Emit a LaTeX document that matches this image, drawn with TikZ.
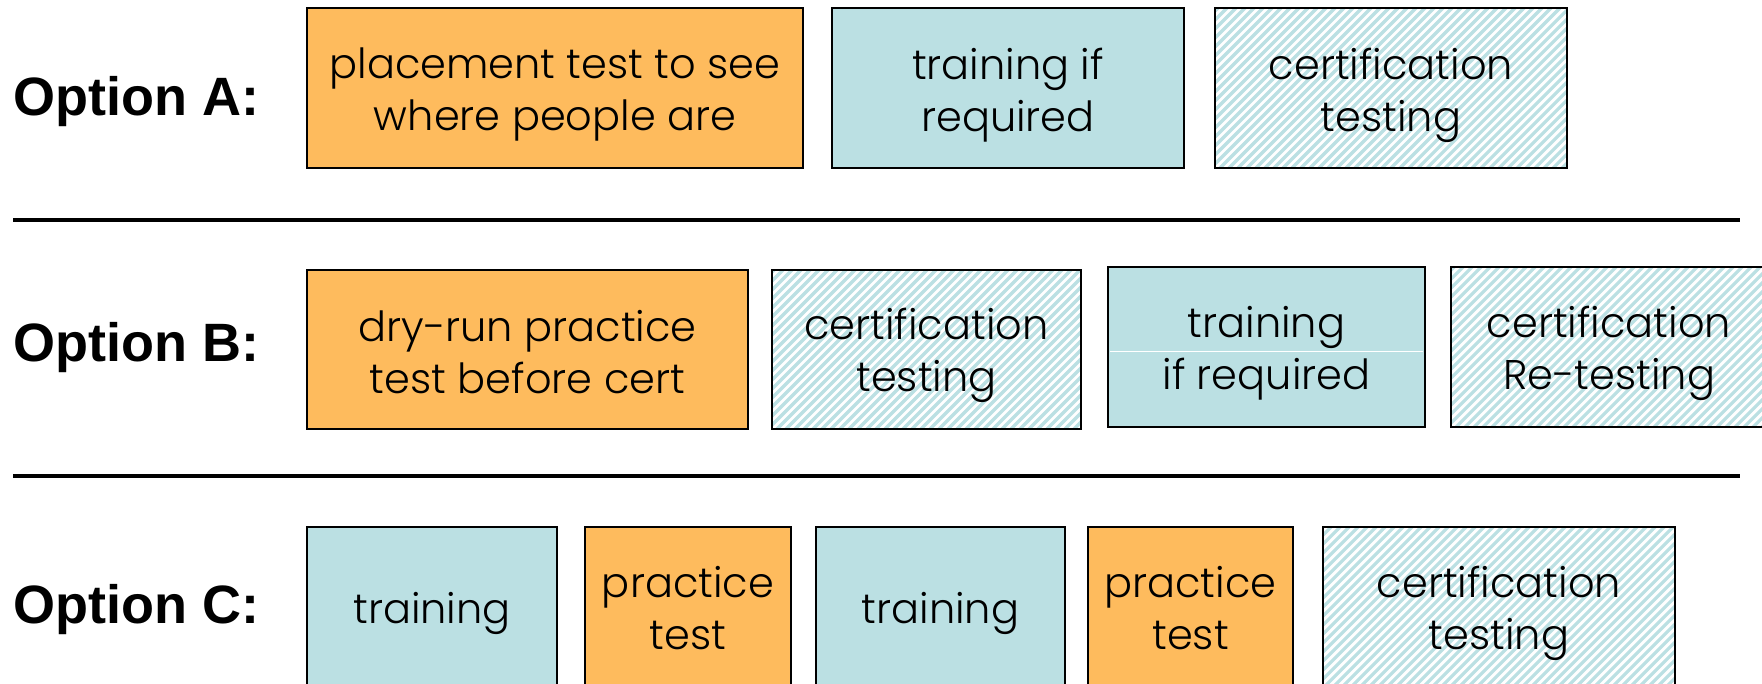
\documentclass[tikz,border=0pt]{standalone}
\usepackage{fontspec}
\setmainfont{Poppins Light}
\newfontfamily\lblfont{Liberation Sans}
\usetikzlibrary{calc}
\definecolor{orangec}{RGB}{254,187,93}
\definecolor{tealc}{RGB}{187,224,227}
\newcommand\bx[8]{%
  \node[#1, minimum width=#5pt, minimum height=#6pt,
    label={[boxtext, yshift=-#8pt]center:{\vphantom{Ag}#7\vphantom{Ag}}}] (#2) at (#3,#4) {};}
\begin{document}
\begin{tikzpicture}[x=1pt,y=-1pt,
  box/.style={draw=black, line width=2.5pt, inner sep=0pt},
  boxtext/.style={align=center, inner sep=0pt,
    font=\fontsize{41.5}{52}\selectfont},
  orangebox/.style={box, fill=orangec},
  tealbox/.style={box, fill=tealc},
  hatchbox/.style={box, fill=white, path picture={
    \foreach \i in {-45,...,45}
      \draw[tealc, line width=3.2pt]
        ($(path picture bounding box.south west)+(\i*9pt,-5pt)$) -- ++(420pt,420pt);}},
  optlabel/.style={anchor=west, inner sep=0pt, font=\lblfont\bfseries\fontsize{54}{60}\selectfont},
  sepline/.style={line width=4.5pt}]
\useasboundingbox (0,0) rectangle (1762,684);
\clip (0,0) rectangle (1762,684);

% Option A
\node[optlabel] (la) at (13,102) {Option A:};
\bx{orangebox}{a1}{555}{88}{496}{160}{placement test to see\\where people are}{7}
\bx{tealbox}{a2}{1008}{88}{352}{160}{training if\\required}{7}
\bx{hatchbox}{a3}{1391}{88}{352}{160}{certification\\testing}{7}

\coordinate (s1l) at (13,220);
\coordinate (s1r) at (1740,220);
\draw[sepline] (s1l) -- (s1r);

% Option B
\node[optlabel] (lb) at (13,348) {Option B:};
\bx{orangebox}{b1}{527.5}{349.5}{441}{159}{dry-run practice\\test before cert}{7.5}
\bx{hatchbox}{b2}{926.5}{349.5}{309}{159}{certification\\testing}{6}
\bx{tealbox}{b3}{1266.5}{347}{317}{160}{training\\if required}{6}
\coordinate (b3l) at (1110,352);
\coordinate (b3r) at (1423,352);
\draw[white, line width=1pt] (b3l) -- (b3r);
\bx{hatchbox}{b4}{1609}{347}{316}{160}{certification\\Re-testing}{6}

\coordinate (s2l) at (13,476);
\coordinate (s2r) at (1740,476);
\draw[sepline] (s2l) -- (s2r);

% Option C
\node[optlabel] (lc) at (13,610) {Option C:};
\bx{tealbox}{c1}{432}{609.5}{250}{165}{training}{4}
\bx{orangebox}{c2}{688}{609.5}{206}{165}{practice\\test}{4}
\bx{tealbox}{c3}{940.5}{609.5}{249}{165}{training}{4}
\bx{orangebox}{c4}{1190.5}{609.5}{205}{165}{practice\\test}{4}
\bx{hatchbox}{c5}{1499}{609.5}{352}{165}{certification\\testing}{4}
\end{tikzpicture}
\end{document}
